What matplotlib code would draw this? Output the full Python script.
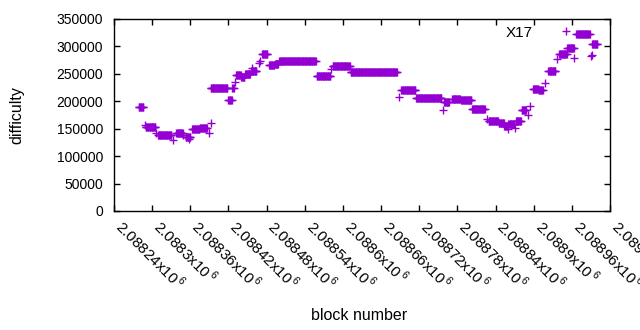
import numpy as np
import matplotlib
matplotlib.use("Agg")
import matplotlib.pyplot as plt
from matplotlib.ticker import FuncFormatter

plt.rcParams['font.family'] = ['Liberation Sans', 'DejaVu Sans']
plt.rcParams['mathtext.fontset'] = 'custom'
plt.rcParams['mathtext.rm'] = 'Liberation Sans'

# runs of blocks with the same difficulty: first block, last block, difficulty
run_start = [2088279, 2088289, 2088290, 2088306, 2088309, 2088332, 2088338, 2088349,
             2088353, 2088358, 2088363, 2088375, 2088389, 2088392, 2088392, 2088420,
             2088426, 2088431, 2088432, 2088440, 2088446, 2088456, 2088457, 2088468,
             2088470, 2088473, 2088484, 2088493, 2088500, 2088559, 2088582, 2088584,
             2088612, 2088688, 2088692, 2088715, 2088757, 2088759, 2088772, 2088786,
             2088803, 2088826, 2088829, 2088845, 2088854, 2088859, 2088860, 2088871,
             2088872, 2088881, 2088891, 2088894, 2088899, 2088908, 2088918, 2088923,
             2088936, 2088940, 2088953, 2088964, 2088967, 2088990, 2088991, 2088992]
run_end = [2088286, 2088289, 2088305, 2088306, 2088330, 2088332, 2088348, 2088349,
           2088360, 2088358, 2088374, 2088386, 2088389, 2088392, 2088418, 2088425,
           2088428, 2088431, 2088439, 2088445, 2088454, 2088464, 2088457, 2088468,
           2088470, 2088481, 2088492, 2088498, 2088557, 2088580, 2088582, 2088611,
           2088685, 2088688, 2088714, 2088755, 2088757, 2088767, 2088784, 2088802,
           2088823, 2088826, 2088844, 2088853, 2088858, 2088859, 2088869, 2088871,
           2088880, 2088888, 2088891, 2088894, 2088907, 2088914, 2088918, 2088934,
           2088936, 2088952, 2088963, 2088964, 2088988, 2088990, 2088991, 2089000]
run_value = [189000, 157000, 153000, 143000, 138000, 129600, 143000, 139000,
             135500, 131400, 150000, 151500, 143000, 161000, 224000, 202000,
             224000, 235000, 247600, 244000, 250000, 255500, 260400, 270600,
             273000, 286500, 266000, 268200, 273200, 245800, 258600, 264000,
             253100, 208600, 220300, 205700, 184300, 199500, 203800, 202000,
             185600, 167900, 163700, 160600, 154600, 149100, 158200, 151500,
             164200, 184000, 175200, 191600, 222100, 221000, 233000, 255000,
             276800, 286000, 296900, 278600, 322400, 282800, 285000, 305300]

series_name = "X17"
x_ticks = [2088240 + 60 * i for i in range(14)]
y_ticks = [0, 50000, 100000, 150000, 200000, 250000, 300000, 350000]

blocks = np.concatenate([np.arange(s, e + 1) for s, e in zip(run_start, run_end)])
diffs = np.concatenate([np.full(e - s + 1, v) for s, e, v in zip(run_start, run_end, run_value)])

fig = plt.figure(figsize=(6.4, 3.3), dpi=100)
ax = fig.add_axes([114 / 640, 1 - 211 / 330, 496 / 640, 192 / 330])

ax.plot(blocks, diffs, linestyle='None', marker='+', markersize=6, markeredgewidth=1.0,
        color='#9400d3', label=series_name)

ax.set_xlim(x_ticks[0], x_ticks[-1] - 60)
ax.set_ylim(y_ticks[0], y_ticks[-1])
ax.set_xticks(x_ticks)
ax.set_yticks(y_ticks)
ax.xaxis.set_major_formatter(FuncFormatter(lambda v, p: "%gx10$^{\\,6}$" % (v / 1e6)))
ax.tick_params(direction='in', top=True, right=True, length=4.5, width=1)
ax.tick_params(axis='y', labelsize=10, pad=8)
ax.tick_params(axis='x', labelsize=11, pad=12)
for lab in ax.get_xticklabels():
    lab.set_rotation(-45)
    lab.set_ha('left')
    lab.set_va('baseline')
    lab.set_rotation_mode('anchor')
for s in ax.spines.values():
    s.set_linewidth(1)

ax.set_xlabel('block number', fontsize=11.5)
ax.xaxis.set_label_coords(0.494, -0.505)
ax.set_ylabel('difficulty', fontsize=11.5)
ax.yaxis.set_label_coords(-0.181, 0.5)
ax.legend(loc='upper right', markerfirst=False, frameon=False, fontsize=11,
          handlelength=1.0, handletextpad=1.68, borderaxespad=0.3,
          bbox_to_anchor=(0.948, 1.021))

fig.savefig("out.png", dpi=100)
